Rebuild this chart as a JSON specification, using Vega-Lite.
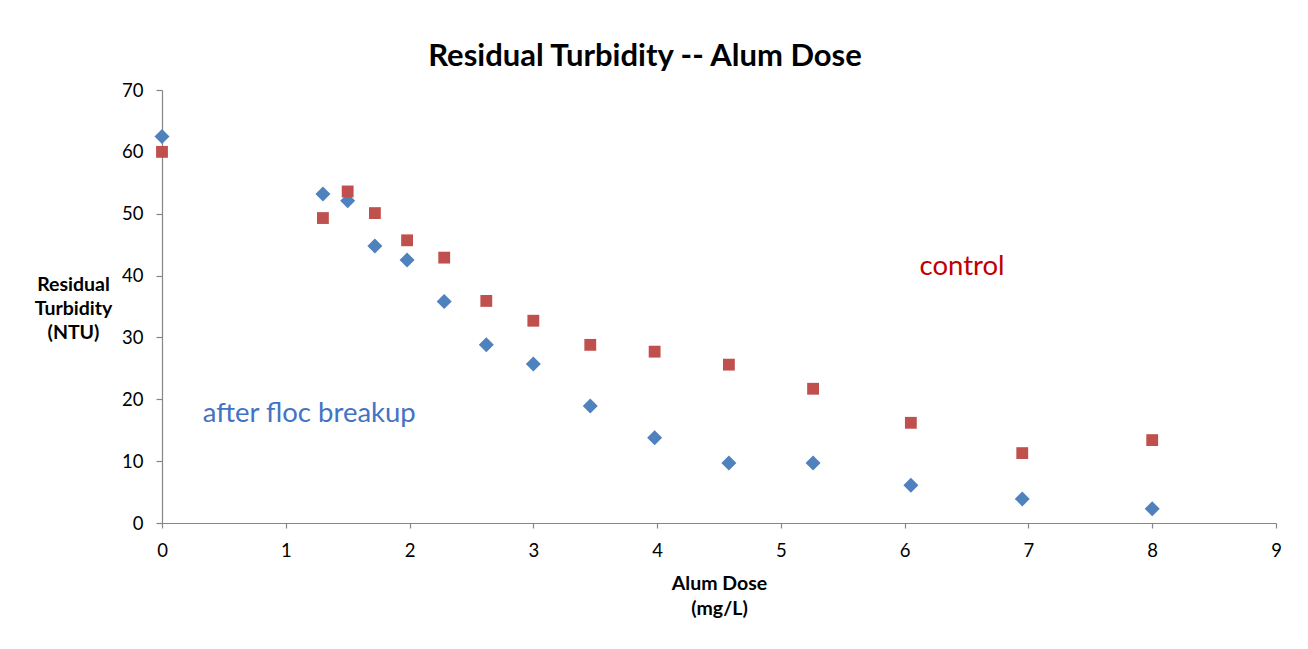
{
  "$schema": "https://vega.github.io/schema/vega-lite/v6.json",
  "autosize": "none",
  "width": 1114,
  "height": 433,
  "padding": {"left": 162, "top": 90, "right": 32, "bottom": 126},
  "background": "white",
  "config": {
    "view": {"stroke": null},
    "font": "Lato",
    "axis": {
      "grid": false,
      "domainColor": "#868686",
      "tickColor": "#868686",
      "domainWidth": 1.2,
      "tickWidth": 1.2,
      "labelColor": "#000000",
      "titleColor": "#000000",
      "labelFont": "Lato",
      "titleFont": "Lato",
      "labelFontSize": 18.5,
      "titleFontSize": 19.5,
      "titleFontWeight": "bold",
      "labelFlush": false
    }
  },
  "title": {
    "text": "Residual Turbidity -- Alum Dose",
    "font": "Lato",
    "fontSize": 31,
    "fontWeight": "bold",
    "color": "#000000",
    "anchor": "middle",
    "dx": -74,
    "dy": 41,
    "baseline": "alphabetic",
    "offset": 25
  },
  "datasets": {
    "points": [
      {"dose": 0, "turbidity": 62.5, "series": "after floc breakup"},
      {"dose": 1.3, "turbidity": 53.2, "series": "after floc breakup"},
      {"dose": 1.5, "turbidity": 52.1, "series": "after floc breakup"},
      {"dose": 1.72, "turbidity": 44.8, "series": "after floc breakup"},
      {"dose": 1.98, "turbidity": 42.5, "series": "after floc breakup"},
      {"dose": 2.28, "turbidity": 35.8, "series": "after floc breakup"},
      {"dose": 2.62, "turbidity": 28.8, "series": "after floc breakup"},
      {"dose": 3.0, "turbidity": 25.7, "series": "after floc breakup"},
      {"dose": 3.46, "turbidity": 18.9, "series": "after floc breakup"},
      {"dose": 3.98, "turbidity": 13.8, "series": "after floc breakup"},
      {"dose": 4.58, "turbidity": 9.7, "series": "after floc breakup"},
      {"dose": 5.26, "turbidity": 9.7, "series": "after floc breakup"},
      {"dose": 6.05, "turbidity": 6.1, "series": "after floc breakup"},
      {"dose": 6.95, "turbidity": 3.9, "series": "after floc breakup"},
      {"dose": 8.0, "turbidity": 2.3, "series": "after floc breakup"},
      {"dose": 0, "turbidity": 60.0, "series": "control"},
      {"dose": 1.3, "turbidity": 49.3, "series": "control"},
      {"dose": 1.5, "turbidity": 53.6, "series": "control"},
      {"dose": 1.72, "turbidity": 50.1, "series": "control"},
      {"dose": 1.98, "turbidity": 45.7, "series": "control"},
      {"dose": 2.28, "turbidity": 42.9, "series": "control"},
      {"dose": 2.62, "turbidity": 35.9, "series": "control"},
      {"dose": 3.0, "turbidity": 32.7, "series": "control"},
      {"dose": 3.46, "turbidity": 28.8, "series": "control"},
      {"dose": 3.98, "turbidity": 27.7, "series": "control"},
      {"dose": 4.58, "turbidity": 25.6, "series": "control"},
      {"dose": 5.26, "turbidity": 21.7, "series": "control"},
      {"dose": 6.05, "turbidity": 16.2, "series": "control"},
      {"dose": 6.95, "turbidity": 11.3, "series": "control"},
      {"dose": 8.0, "turbidity": 13.4, "series": "control"}
    ],
    "labels": [
      {"dose": 0.33, "turbidity": 17.6, "label": "after floc breakup", "series": "after floc breakup"},
      {"dose": 6.12, "turbidity": 41.4, "label": "control", "series": "control"}
    ]
  },
  "layer": [
    {
      "data": {"name": "points"},
      "mark": {"type": "point", "filled": true, "opacity": 1, "strokeWidth": 0},
      "encoding": {
        "x": {
          "field": "dose",
          "type": "quantitative",
          "scale": {"domain": [0, 9], "nice": false, "zero": true},
          "axis": {
            "values": [0, 1, 2, 3, 4, 5, 6, 7, 8, 9],
            "format": "d",
            "tickSize": 5,
            "labelPadding": 13,
            "title": ["Alum Dose", "(mg/L)"],
            "titleLineHeight": 25,
            "titleY": 60,
            "titleBaseline": "middle"
          }
        },
        "y": {
          "field": "turbidity",
          "type": "quantitative",
          "scale": {"domain": [0, 70], "nice": false},
          "axis": {
            "values": [0, 10, 20, 30, 40, 50, 60, 70],
            "tickSize": 6,
            "labelPadding": 13,
            "title": ["Residual", "Turbidity", "(NTU)"],
            "titleAngle": 0,
            "titleAlign": "center",
            "titleBaseline": "middle",
            "titleLineHeight": 24,
            "titleX": -89,
            "titleY": 194
          }
        },
        "color": {
          "field": "series",
          "type": "nominal",
          "scale": {"domain": ["after floc breakup", "control"], "range": ["#4F81BD", "#C0504D"]},
          "legend": null
        },
        "shape": {
          "field": "series",
          "type": "nominal",
          "scale": {"domain": ["after floc breakup", "control"], "range": ["diamond", "square"]},
          "legend": null
        },
        "size": {
          "field": "series",
          "type": "nominal",
          "scale": {"domain": ["after floc breakup", "control"], "range": [225, 140]},
          "legend": null
        }
      }
    },
    {
      "data": {"name": "labels"},
      "mark": {"type": "text", "align": "left", "baseline": "middle", "fontSize": 27.5, "font": "Lato"},
      "encoding": {
        "x": {"field": "dose", "type": "quantitative"},
        "y": {"field": "turbidity", "type": "quantitative"},
        "text": {"field": "label"},
        "color": {
          "field": "series",
          "type": "nominal",
          "scale": {"domain": ["after floc breakup", "control"], "range": ["#4472C4", "#C00000"]},
          "legend": null
        }
      }
    }
  ],
  "resolve": {"scale": {"color": "independent"}}
}
